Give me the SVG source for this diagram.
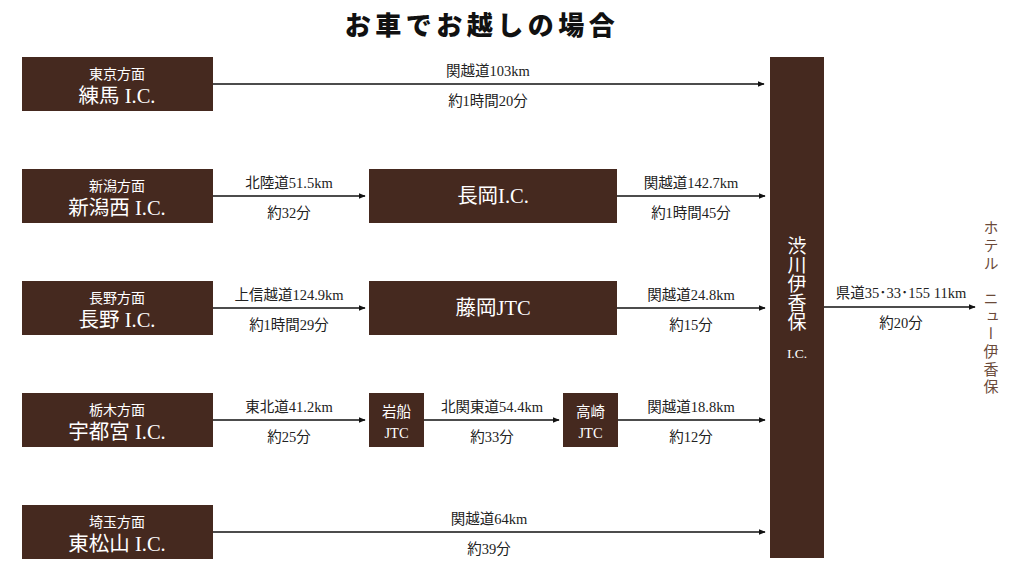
<svg xmlns="http://www.w3.org/2000/svg" width="1024" height="576" viewBox="0 0 1024 576">
<style>
.box{fill:#45291f;}
.t{font-family:"Liberation Serif","Noto Sans CJK JP",serif;fill:#fff;text-anchor:middle;}
.s{font-size:14px;}
.b{font-size:20.5px;}
.m{font-size:20.5px;}
.j{font-size:14.5px;}
.v{font-family:"Noto Sans CJK JP",sans-serif;writing-mode:vertical-rl;text-anchor:start;}
.lbl{font-family:"Liberation Serif","Noto Sans CJK JP",serif;font-size:14.5px;fill:#222;text-anchor:middle;}
.ln{stroke:#111;stroke-width:1.6;fill:none;marker-end:url(#ah);}
</style>
<defs>
<marker id="ah" viewBox="0 0 10 10" refX="9" refY="5" markerWidth="4.5" markerHeight="4.5" orient="auto" markerUnits="strokeWidth">
<path d="M0,1 L10,5 L0,9 z" fill="#111"/>
</marker>
</defs>
<rect width="1024" height="576" fill="#fff"/>
<text x="482" y="35" font-family="'Noto Sans CJK JP',sans-serif" font-weight="900" font-size="26" letter-spacing="4.5" text-anchor="middle" fill="#111">お車でお越しの場合</text>

<g id="nerima">
<rect class="box" x="22" y="57" width="191" height="54"/>
<text class="t s" x="117" y="79">東京方面</text>
<text class="t b" x="117" y="103">練馬 I.C.</text>
</g>
<g id="niigatanishi">
<rect class="box" x="22" y="169" width="191" height="54"/>
<text class="t s" x="117" y="191">新潟方面</text>
<text class="t b" x="117" y="215">新潟西 I.C.</text>
</g>
<g id="nagano">
<rect class="box" x="22" y="281" width="191" height="54"/>
<text class="t s" x="117" y="303">長野方面</text>
<text class="t b" x="117" y="327">長野 I.C.</text>
</g>
<g id="utsunomiya">
<rect class="box" x="22" y="393" width="191" height="54"/>
<text class="t s" x="117" y="415">栃木方面</text>
<text class="t b" x="117" y="439">宇都宮 I.C.</text>
</g>
<g id="higashimatsuyama">
<rect class="box" x="22" y="505" width="191" height="54"/>
<text class="t s" x="117" y="527">埼玉方面</text>
<text class="t b" x="117" y="551">東松山 I.C.</text>
</g>
<g id="nagaoka">
<rect class="box" x="369" y="169" width="248" height="54"/>
<text class="t m" x="493" y="203">長岡I.C.</text>
</g>
<g id="fujioka">
<rect class="box" x="369" y="281" width="248" height="54"/>
<text class="t m" x="493" y="315">藤岡JTC</text>
</g>
<g id="iwafune">
<rect class="box" x="369" y="393" width="55" height="54"/>
<text class="t j" x="396.5" y="417">岩船</text>
<text class="t j" x="396.5" y="438">JTC</text>
</g>
<g id="takasaki">
<rect class="box" x="563" y="393" width="55" height="54"/>
<text class="t j" x="590.5" y="417">高崎</text>
<text class="t j" x="590.5" y="438">JTC</text>
</g>
<g id="shibukawa">
<rect class="box" x="770" y="57" width="54" height="501"/>
<text class="t v" x="797" y="236" font-size="19">渋川伊香保</text>
<text class="t" x="797" y="358" font-size="13.5">I.C.</text>
</g>
<g id="hotel">
<text class="v" x="991" y="220" font-size="15" fill="#6b4a3a" letter-spacing="2.7">ホテル　ニュー伊香保</text>
</g>

<g id="connectors">
<line class="ln" x1="213" y1="84" x2="764" y2="84"/>
<line class="ln" x1="213" y1="196" x2="365" y2="196"/>
<line class="ln" x1="617" y1="196" x2="765" y2="196"/>
<line class="ln" x1="213" y1="308" x2="365" y2="308"/>
<line class="ln" x1="617" y1="308" x2="765" y2="308"/>
<line class="ln" x1="213" y1="420" x2="365" y2="420"/>
<line class="ln" x1="424" y1="420" x2="559" y2="420"/>
<line class="ln" x1="618" y1="420" x2="765" y2="420"/>
<line class="ln" x1="213" y1="532" x2="765" y2="532"/>
<line class="ln" x1="824" y1="307" x2="975" y2="307"/>
<text class="lbl" x="488" y="76">関越道103km</text>
<text class="lbl" x="488" y="106">約1時間20分</text>
<text class="lbl" x="289" y="188">北陸道51.5km</text>
<text class="lbl" x="289" y="218">約32分</text>
<text class="lbl" x="691" y="188">関越道142.7km</text>
<text class="lbl" x="691" y="218">約1時間45分</text>
<text class="lbl" x="289" y="300">上信越道124.9km</text>
<text class="lbl" x="289" y="330">約1時間29分</text>
<text class="lbl" x="691" y="300">関越道24.8km</text>
<text class="lbl" x="691" y="330">約15分</text>
<text class="lbl" x="289" y="412">東北道41.2km</text>
<text class="lbl" x="289" y="442">約25分</text>
<text class="lbl" x="492" y="412">北関東道54.4km</text>
<text class="lbl" x="492" y="442">約33分</text>
<text class="lbl" x="691" y="412">関越道18.8km</text>
<text class="lbl" x="691" y="442">約12分</text>
<text class="lbl" x="489" y="524">関越道64km</text>
<text class="lbl" x="489" y="554">約39分</text>
<text class="lbl" x="901" y="298">県道35･33･155 11km</text>
<text class="lbl" x="901" y="328">約20分</text>
</g>
</svg>
